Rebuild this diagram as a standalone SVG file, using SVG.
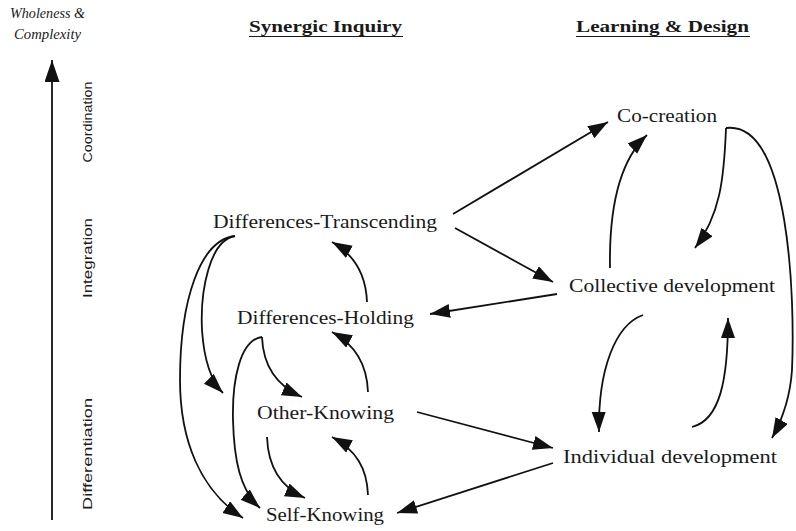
<svg xmlns="http://www.w3.org/2000/svg" width="796" height="531" viewBox="0 0 796 531">
<style>
.node{font-family:"Liberation Serif","Times New Roman",serif;font-size:19px;fill:#1a1a1a}
.head{font-family:"Liberation Serif","Times New Roman",serif;font-size:17px;font-weight:bold;fill:#1a1a1a}
.axis{font-family:"Liberation Sans",Arial,sans-serif;font-size:13px;fill:#1a1a1a}
.title{font-family:"Liberation Serif","Times New Roman",serif;font-size:14px;font-style:italic;fill:#1a1a1a}
.conn path,.conn line{fill:none;stroke:#111;stroke-width:1.8}
</style>
<defs>
<marker id="ah" markerUnits="userSpaceOnUse" markerWidth="22" markerHeight="16" refX="20" refY="7" orient="auto">
<path d="M0,0 L20,7 L0,14 z" fill="#111"/>
</marker>
<marker id="ahbig" markerUnits="userSpaceOnUse" markerWidth="24" markerHeight="16" refX="22" refY="7.5" orient="auto">
<path d="M0,0 L22,7.5 L0,15 z" fill="#111"/>
</marker>
</defs>
<rect width="796" height="531" fill="#fff"/>

<g id="axis-title">
<text class="title" x="10" y="18" textLength="75" lengthAdjust="spacingAndGlyphs">Wholeness &amp;</text>
<text class="title" x="14" y="39" textLength="67" lengthAdjust="spacingAndGlyphs">Complexity</text>
</g>
<g id="axis">
<line x1="52" y1="520" x2="52" y2="60" stroke="#111" stroke-width="1.8" marker-end="url(#ahbig)"/>
<text class="axis" transform="translate(92,122) rotate(-90)" text-anchor="middle" textLength="81" lengthAdjust="spacingAndGlyphs">Coordination</text>
<text class="axis" transform="translate(92,258) rotate(-90)" text-anchor="middle" textLength="80" lengthAdjust="spacingAndGlyphs">Integration</text>
<text class="axis" transform="translate(92,454) rotate(-90)" text-anchor="middle" textLength="112" lengthAdjust="spacingAndGlyphs">Differentiation</text>
</g>

<g id="heading-si">
<text class="head" x="249" y="32" textLength="153" lengthAdjust="spacingAndGlyphs">Synergic Inquiry</text>
<line x1="249" y1="36.5" x2="403" y2="36.5" stroke="#1a1a1a" stroke-width="1.2"/>
</g>
<g id="heading-ld">
<text class="head" x="576" y="32" textLength="173" lengthAdjust="spacingAndGlyphs">Learning &amp; Design</text>
<line x1="576" y1="36.5" x2="750" y2="36.5" stroke="#1a1a1a" stroke-width="1.2"/>
</g>

<g id="n-dt"><text class="node" x="213" y="228" textLength="224" lengthAdjust="spacingAndGlyphs">Differences-Transcending</text></g>
<g id="n-dh"><text class="node" x="237" y="324" textLength="177" lengthAdjust="spacingAndGlyphs">Differences-Holding</text></g>
<g id="n-ok"><text class="node" x="257" y="419" textLength="137" lengthAdjust="spacingAndGlyphs">Other-Knowing</text></g>
<g id="n-sk"><text class="node" x="266" y="521" textLength="118" lengthAdjust="spacingAndGlyphs">Self-Knowing</text></g>
<g id="n-cc"><text class="node" x="617" y="122" textLength="100" lengthAdjust="spacingAndGlyphs">Co-creation</text></g>
<g id="n-cd"><text class="node" x="569" y="292" textLength="206" lengthAdjust="spacingAndGlyphs">Collective development</text></g>
<g id="n-id"><text class="node" x="563" y="463" textLength="214" lengthAdjust="spacingAndGlyphs">Individual development</text></g>

<g id="connectors" class="conn">
<line x1="453" y1="214" x2="608" y2="122" marker-end="url(#ah)"/>
<line x1="455" y1="228" x2="553" y2="282" marker-end="url(#ah)"/>
<line x1="557" y1="294" x2="430" y2="314" marker-end="url(#ah)"/>
<line x1="417" y1="412" x2="553" y2="448" marker-end="url(#ah)"/>
<line x1="553" y1="463" x2="397" y2="513" marker-end="url(#ah)"/>
<path d="M610,268 C609,210 618,162 647,135" marker-end="url(#ah)"/>
<path d="M726,128 C724,180 720,215 695,248" marker-end="url(#ah)"/>
<path d="M726,128 C790,120 795,300 792,370 C790,400 782,420 772,438" marker-end="url(#ah)"/>
<path d="M643,315 C615,325 598,370 599,432" marker-end="url(#ah)"/>
<path d="M692,427 C720,420 728,380 728,318" marker-end="url(#ah)"/>
<path d="M367,302 C366,275 355,255 332,242" marker-end="url(#ah)"/>
<path d="M368,392 C367,365 356,345 332,332" marker-end="url(#ah)"/>
<path d="M368,495 C367,468 356,450 332,437" marker-end="url(#ah)"/>
<path d="M262,337 C263,365 275,385 302,397" marker-end="url(#ah)"/>
<path d="M267,437 C268,465 280,487 305,498" marker-end="url(#ah)"/>
<path d="M262,337 C240,340 232,380 233,420 C234,460 240,490 260,508" marker-end="url(#ah)"/>
<path d="M235,236 C210,240 200,290 202,330 C204,360 210,380 223,393" marker-end="url(#ah)"/>
<path d="M235,236 C200,240 180,300 180,380 C180,440 200,490 243,518" marker-end="url(#ah)"/>
</g>
</svg>
